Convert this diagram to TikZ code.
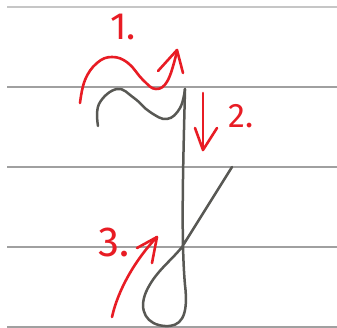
\documentclass[tikz,border=0pt]{standalone}
\usepackage{fontspec}
\setmainfont{Fira Sans}
\definecolor{penred}{RGB}{232,28,36}
\definecolor{pencil}{RGB}{88,88,84}
\definecolor{ruling}{RGB}{160,160,160}
\tikzset{
  ruled/.style={draw=ruling, line width=1.8pt},
  letter/.style={draw=pencil, line width=2.5pt, line cap=round, line join=round},
  redstroke/.style={draw=penred, line width=2.6pt, line cap=round, line join=round},
  numlabel/.style={text=penred, inner sep=0pt, anchor=base west},
}
\begin{document}
\begin{tikzpicture}[x=1pt,y=-1pt]
\fill[white] (0,0) rectangle (337,328);
\useasboundingbox (0,0) rectangle (337,328);
% ruled lines
\draw[ruled, draw=ruling!60] (7,7) -- (337,7);
\foreach \yy in {87,167,247,327} \draw[ruled] (7,\yy) -- (337,\yy);
% letter
\draw[letter] plot[smooth, tension=0.7] coordinates {(98,126) (99,104) (117,89) (134,98) (150,112) (167,119) (180,108) (185,89)};
\draw[letter] (185,89) .. controls (183,170) and (181,240) .. (185,285)
  .. controls (189,318) and (180,327) .. (165,326)
  .. controls (147,325) and (138,311) .. (146,292)
  .. controls (155,272) and (170,262) .. (182,247) -- (232,167);
% arrow 1
\draw[redstroke] plot[smooth, tension=0.7] coordinates {(80,103) (85,80) (97,63) (112,57) (128,63) (143,80) (156,89) (168,80) (177,51)};
\draw[redstroke] (158,71) -- (177,50) -- (183,73);
\node[numlabel, font=\fontsize{38}{38}\selectfont] (n1) at (110,40) {1.};
% arrow 2
\draw[redstroke] (203,93) -- (203,150);
\draw[redstroke] (195,128) -- (203,150) -- (217,128);
\node[numlabel, font=\fontsize{34}{34}\selectfont] (n2) at (228,128) {2.};
% arrow 3
\draw[redstroke] (112,317) .. controls (118,290) and (135,260) .. (157,237);
\draw[redstroke] (137,248) -- (157,237) -- (152,263);
\node[numlabel, font=\fontsize{42}{42}\selectfont] (n3) at (98,257) {3.};
\end{tikzpicture}
\end{document}
